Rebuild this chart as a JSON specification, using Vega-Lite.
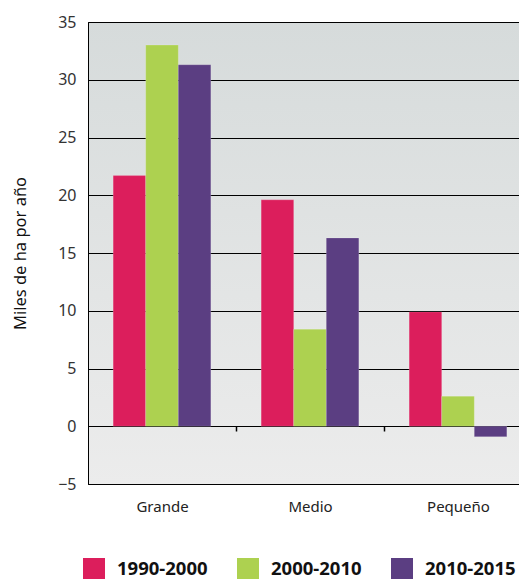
{
  "$schema": "https://vega.github.io/schema/vega-lite/v6.json",
  "autosize": "none",
  "width": 444,
  "height": 462,
  "padding": {"left": 88, "top": 22, "right": 0, "bottom": 95},
  "background": "#ffffff",
  "config": {
    "font": "Noto Sans",
    "view": {
      "stroke": "#000000",
      "strokeWidth": 1,
      "fill": {"gradient": "linear", "x1": 0, "y1": 0, "x2": 0, "y2": 1, "stops": [{"offset": 0, "color": "#d6dbdb"}, {"offset": 1, "color": "#ececec"}]}
    }
  },
  "data": {
    "values": [
      {"tamano": "Grande", "periodo": "1990-2000", "valor": 21.7},
      {"tamano": "Grande", "periodo": "2000-2010", "valor": 33.0},
      {"tamano": "Grande", "periodo": "2010-2015", "valor": 31.3},
      {"tamano": "Medio", "periodo": "1990-2000", "valor": 19.6},
      {"tamano": "Medio", "periodo": "2000-2010", "valor": 8.4},
      {"tamano": "Medio", "periodo": "2010-2015", "valor": 16.3},
      {"tamano": "Pequeño", "periodo": "1990-2000", "valor": 9.9},
      {"tamano": "Pequeño", "periodo": "2000-2010", "valor": 2.6},
      {"tamano": "Pequeño", "periodo": "2010-2015", "valor": -0.9}
    ]
  },
  "mark": {"type": "bar", "stroke": "#ffffff", "strokeOpacity": 0.35, "strokeWidth": 0.5},
  "encoding": {
    "x": {
      "field": "tamano",
      "type": "nominal",
      "sort": ["Grande", "Medio", "Pequeño"],
      "scale": {"paddingInner": 0.34, "paddingOuter": 0.17},
      "axis": {
        "title": null,
        "labelAngle": 0,
        "offset": -58,
        "domain": true,
        "domainColor": "#000000",
        "domainWidth": 1,
        "ticks": true,
        "tickSize": 5,
        "tickColor": "#000000",
        "tickWidth": 1.5,
        "tickOffset": 74,
        "labelOffset": -74,
        "labelPadding": 68,
        "labelFontSize": 15,
        "labelColor": "#222222",
        "grid": false
      }
    },
    "xOffset": {"field": "periodo", "type": "nominal", "scale": {"padding": 0}},
    "y": {
      "field": "valor",
      "type": "quantitative",
      "scale": {"domain": [-5, 35], "nice": false},
      "axis": {
        "title": "Miles de ha por año",
        "titleFontSize": 16.5,
        "titleFontWeight": "normal",
        "titleColor": "#111111",
        "titleX": -60,
        "values": [-5, 0, 5, 10, 15, 20, 25, 30, 35],
        "ticks": false,
        "labelPadding": 12,
        "labelFontSize": 16,
        "labelColor": "#333333",
        "domain": true,
        "domainColor": "#000000",
        "grid": true,
        "gridColor": "#000000",
        "gridWidth": 1,
        "gridOpacity": 1
      }
    },
    "color": {
      "field": "periodo",
      "type": "nominal",
      "scale": {"domain": ["1990-2000", "2000-2010", "2010-2015"], "range": ["#dc1e5c", "#add150", "#5b3e82"]},
      "legend": {
        "title": null,
        "orient": "none",
        "direction": "horizontal",
        "legendX": -5,
        "legendY": 536,
        "symbolType": "square",
        "symbolSize": 484,
        "symbolStrokeWidth": 0,
        "symbolOpacity": 1,
        "labelFontSize": 18.5,
        "labelFontWeight": "bold",
        "labelColor": "#111111",
        "labelOffset": 12,
        "columnPadding": 29
      }
    }
  }
}
